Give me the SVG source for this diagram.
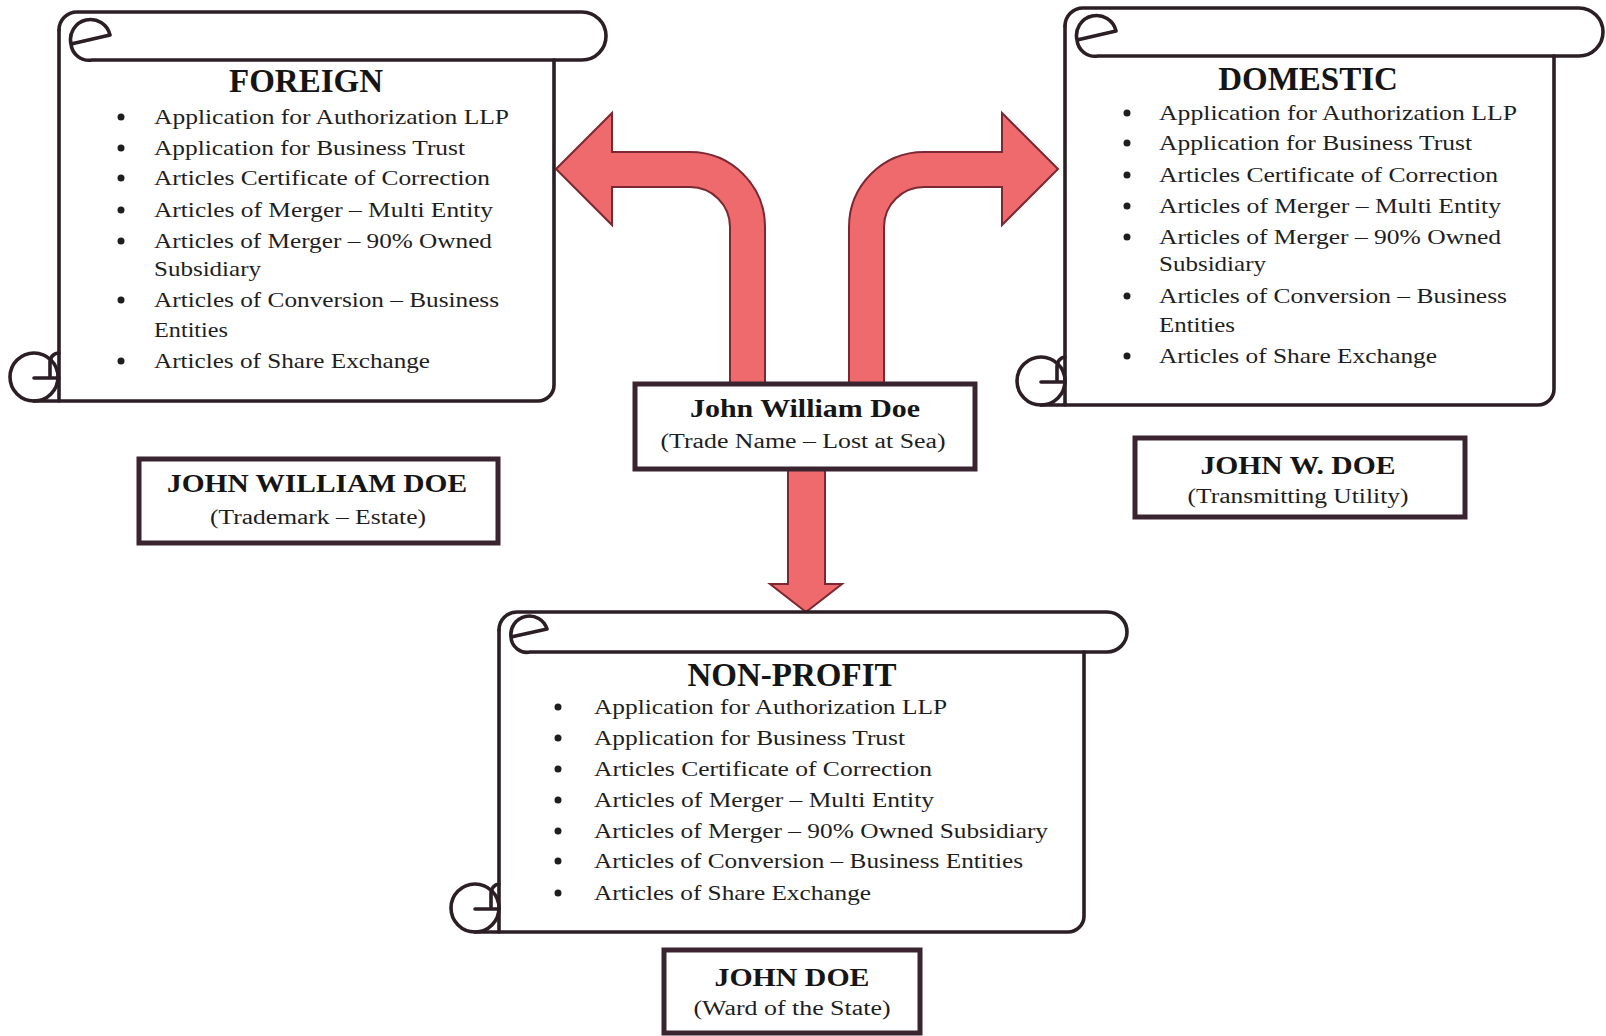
<svg xmlns="http://www.w3.org/2000/svg" width="1606" height="1036" viewBox="0 0 1606 1036">
<style>
.scroll{fill:none;stroke:#2c1e25;stroke-width:3.6;stroke-linecap:round;stroke-linejoin:round}
.sfill{fill:#ffffff;stroke:none}
.arrow{fill:#ef6a6c;stroke:#7c2832;stroke-width:2;stroke-linejoin:miter}
.box{fill:#ffffff;stroke:#3a2430;stroke-width:5}
.item{font-family:"Liberation Serif","Times New Roman",serif;font-size:22px;fill:#1e1e1e}
.head{font-family:"Liberation Serif","Times New Roman",serif;font-size:33px;font-weight:bold;fill:#151515;text-anchor:middle}
.lt{font-family:"Liberation Serif","Times New Roman",serif;font-size:26px;font-weight:bold;fill:#151515;text-anchor:middle}
.ls{font-family:"Liberation Serif","Times New Roman",serif;font-size:20px;fill:#1e1e1e;text-anchor:middle}
.bul{fill:#1e1e1e}
</style>
<rect width="1606" height="1036" fill="#ffffff"/>

<g id="connectors">
<path class="arrow" d="M 556,169 L 612,113 V 152 H 690 A 75 75 0 0 1 765,227 V 386 H 730 V 227 A 40 40 0 0 0 690,187 H 612 V 225 Z"/>
<path class="arrow" d="M 1058,169 L 1002,113 V 152 H 924 A 75 75 0 0 0 849,227 V 386 H 884 V 227 A 40 40 0 0 1 924,187 H 1002 V 225 Z"/>
<path class="arrow" d="M 788,466 H 825 V 584 H 842 L 806,612 L 770,584 H 788 Z"/>
</g>

<g id="foreign">
<rect class="sfill" x="59" y="12" width="547" height="48" rx="20"/>
<rect class="sfill" x="59" y="60" width="495" height="341"/>
<path class="scroll" d="M 59,30 A 18 18 0 0 1 77,12 H 582 A 24 24 0 0 1 582,60 H 92 A 18 18 0 0 1 71,44 L 110,35 A 20 20 0 0 0 71,44"/>
<path class="scroll" d="M 59,30 V 401"/>
<path class="scroll" d="M 554,60 V 385 A 16 16 0 0 1 538,401 H 34"/>
<circle class="scroll" cx="34" cy="377" r="24" fill="#fff"/>
<path class="scroll" d="M 34,378 H 59 M 50,378 V 362 A 9 9 0 0 1 59,353"/>
<text class="head" x="306" y="92">FOREIGN</text>
<g class="bul"><circle cx="121" cy="117" r="3.5"/><circle cx="121" cy="148" r="3.5"/><circle cx="121" cy="178" r="3.5"/><circle cx="121" cy="210" r="3.5"/><circle cx="121" cy="241" r="3.5"/><circle cx="121" cy="300" r="3.5"/><circle cx="121" cy="361" r="3.5"/></g>
<text class="item" x="154" y="124" textLength="355" lengthAdjust="spacingAndGlyphs">Application for Authorization LLP</text>
<text class="item" x="154" y="155" textLength="311" lengthAdjust="spacingAndGlyphs">Application for Business Trust</text>
<text class="item" x="154" y="185" textLength="336" lengthAdjust="spacingAndGlyphs">Articles Certificate of Correction</text>
<text class="item" x="154" y="217" textLength="339" lengthAdjust="spacingAndGlyphs">Articles of Merger – Multi Entity</text>
<text class="item" x="154" y="248" textLength="338" lengthAdjust="spacingAndGlyphs">Articles of Merger – 90% Owned</text>
<text class="item" x="154" y="276" textLength="107" lengthAdjust="spacingAndGlyphs">Subsidiary</text>
<text class="item" x="154" y="307" textLength="345" lengthAdjust="spacingAndGlyphs">Articles of Conversion – Business</text>
<text class="item" x="154" y="337" textLength="74" lengthAdjust="spacingAndGlyphs">Entities</text>
<text class="item" x="154" y="368" textLength="276" lengthAdjust="spacingAndGlyphs">Articles of Share Exchange</text>
</g>

<g id="domestic">
<rect class="sfill" x="1065" y="8" width="538" height="48" rx="20"/>
<rect class="sfill" x="1065" y="56" width="489" height="349"/>
<path class="scroll" d="M 1065,26 A 18 18 0 0 1 1083,8 H 1579 A 24 24 0 0 1 1579,56 H 1098 A 18 18 0 0 1 1077,40 L 1116,31 A 20 20 0 0 0 1077,40"/>
<path class="scroll" d="M 1065,26 V 405"/>
<path class="scroll" d="M 1554,56 V 389 A 16 16 0 0 1 1538,405 H 1041"/>
<circle class="scroll" cx="1041" cy="381" r="24" fill="#fff"/>
<path class="scroll" d="M 1041,382 H 1065 M 1057,382 V 366 A 9 9 0 0 1 1065,357"/>
<text class="head" x="1308" y="90">DOMESTIC</text>
<g class="bul"><circle cx="1127" cy="113" r="3.5"/><circle cx="1127" cy="143" r="3.5"/><circle cx="1127" cy="175" r="3.5"/><circle cx="1127" cy="206" r="3.5"/><circle cx="1127" cy="237" r="3.5"/><circle cx="1127" cy="296" r="3.5"/><circle cx="1127" cy="356" r="3.5"/></g>
<text class="item" x="1159" y="120" textLength="358" lengthAdjust="spacingAndGlyphs">Application for Authorization LLP</text>
<text class="item" x="1159" y="150" textLength="313" lengthAdjust="spacingAndGlyphs">Application for Business Trust</text>
<text class="item" x="1159" y="182" textLength="339" lengthAdjust="spacingAndGlyphs">Articles Certificate of Correction</text>
<text class="item" x="1159" y="213" textLength="342" lengthAdjust="spacingAndGlyphs">Articles of Merger – Multi Entity</text>
<text class="item" x="1159" y="244" textLength="342" lengthAdjust="spacingAndGlyphs">Articles of Merger – 90% Owned</text>
<text class="item" x="1159" y="271" textLength="107" lengthAdjust="spacingAndGlyphs">Subsidiary</text>
<text class="item" x="1159" y="303" textLength="348" lengthAdjust="spacingAndGlyphs">Articles of Conversion – Business</text>
<text class="item" x="1159" y="332" textLength="76" lengthAdjust="spacingAndGlyphs">Entities</text>
<text class="item" x="1159" y="363" textLength="278" lengthAdjust="spacingAndGlyphs">Articles of Share Exchange</text>
</g>

<g id="nonprofit">
<rect class="sfill" x="499" y="612" width="628" height="40" rx="18"/>
<rect class="sfill" x="499" y="652" width="585" height="280"/>
<path class="scroll" d="M 499,630 A 18 18 0 0 1 517,612 H 1107 A 20 20 0 0 1 1107,652 H 530 A 16 16 0 0 1 511,637 L 547,629 A 18.5 18.5 0 0 0 511,637"/>
<path class="scroll" d="M 499,630 V 932"/>
<path class="scroll" d="M 1084,652 V 916 A 16 16 0 0 1 1068,932 H 475"/>
<circle class="scroll" cx="475" cy="908" r="24" fill="#fff"/>
<path class="scroll" d="M 475,909 H 499 M 491,909 V 893 A 9 9 0 0 1 499,884"/>
<text class="head" x="792" y="686">NON-PROFIT</text>
<g class="bul"><circle cx="558" cy="707" r="3.5"/><circle cx="558" cy="738" r="3.5"/><circle cx="558" cy="769" r="3.5"/><circle cx="558" cy="800" r="3.5"/><circle cx="558" cy="831" r="3.5"/><circle cx="558" cy="861" r="3.5"/><circle cx="558" cy="893" r="3.5"/></g>
<text class="item" x="594" y="714" textLength="353" lengthAdjust="spacingAndGlyphs">Application for Authorization LLP</text>
<text class="item" x="594" y="745" textLength="311" lengthAdjust="spacingAndGlyphs">Application for Business Trust</text>
<text class="item" x="594" y="776" textLength="338" lengthAdjust="spacingAndGlyphs">Articles Certificate of Correction</text>
<text class="item" x="594" y="807" textLength="340" lengthAdjust="spacingAndGlyphs">Articles of Merger – Multi Entity</text>
<text class="item" x="594" y="838" textLength="454" lengthAdjust="spacingAndGlyphs">Articles of Merger – 90% Owned Subsidiary</text>
<text class="item" x="594" y="868" textLength="429" lengthAdjust="spacingAndGlyphs">Articles of Conversion – Business Entities</text>
<text class="item" x="594" y="900" textLength="277" lengthAdjust="spacingAndGlyphs">Articles of Share Exchange</text>
</g>

<g id="center-box">
<rect class="box" x="635" y="384" width="340" height="85"/>
<text class="lt" x="805" y="417" font-size="24" textLength="230" lengthAdjust="spacingAndGlyphs">John William Doe</text>
<text class="ls" x="803" y="448" font-size="21" textLength="285" lengthAdjust="spacingAndGlyphs">(Trade Name – Lost at Sea)</text>
</g>

<g id="foreign-label">
<rect class="box" x="139" y="459" width="359" height="84"/>
<text class="lt" x="317" y="492" textLength="300" lengthAdjust="spacingAndGlyphs">JOHN WILLIAM DOE</text>
<text class="ls" x="318" y="524" textLength="216" lengthAdjust="spacingAndGlyphs">(Trademark – Estate)</text>
</g>

<g id="domestic-label">
<rect class="box" x="1135" y="438" width="330" height="79"/>
<text class="lt" x="1298" y="474" textLength="195" lengthAdjust="spacingAndGlyphs">JOHN W. DOE</text>
<text class="ls" x="1298" y="503" textLength="221" lengthAdjust="spacingAndGlyphs">(Transmitting Utility)</text>
</g>

<g id="nonprofit-label">
<rect class="box" x="664" y="950" width="256" height="83"/>
<text class="lt" x="792" y="986" textLength="155" lengthAdjust="spacingAndGlyphs">JOHN DOE</text>
<text class="ls" x="792" y="1015" textLength="197" lengthAdjust="spacingAndGlyphs">(Ward of the State)</text>
</g>
</svg>
